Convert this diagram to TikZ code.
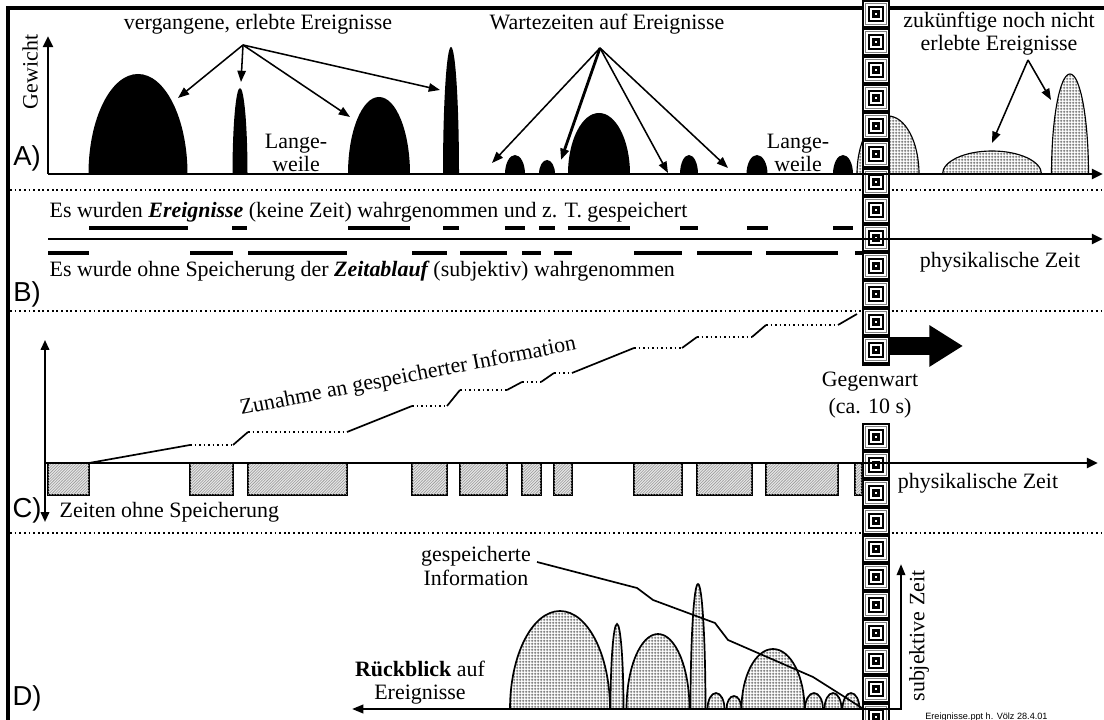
\documentclass[tikz,border=0pt]{standalone}
\usepackage{fontspec}
\setmainfont{Liberation Serif}
\newfontfamily\labelfont{Liberation Sans}
\usetikzlibrary{arrows.meta,patterns,positioning}

\newcommand{\evfont}{\fontsize{15.6}{16.5}\selectfont}
\newcommand{\tagfont}{\labelfont\fontsize{19.5}{20}\selectfont}
% fine grid and fine hatching as in the original
\pgfdeclarepatternformonly{finegrid}{\pgfpointorigin}{\pgfpoint{2.2pt}{2.2pt}}{\pgfpoint{2.2pt}{2.2pt}}{%
  \pgfsetlinewidth{0.45pt}
  \pgfpathmoveto{\pgfpoint{0pt}{1.1pt}}\pgfpathlineto{\pgfpoint{2.2pt}{1.1pt}}
  \pgfpathmoveto{\pgfpoint{1.1pt}{0pt}}\pgfpathlineto{\pgfpoint{1.1pt}{2.2pt}}
  \pgfusepath{stroke}}
\pgfdeclarepatternformonly{finehatch}{\pgfpoint{-0.5pt}{-0.5pt}}{\pgfpoint{2.5pt}{2.5pt}}{\pgfpoint{2pt}{2pt}}{%
  \pgfsetlinewidth{0.4pt}
  \pgfpathmoveto{\pgfpoint{0pt}{0pt}}\pgfpathlineto{\pgfpoint{2.1pt}{2.1pt}}
  \pgfusepath{stroke}}
% one square of the "Gegenwart" pillar, centred at height #1
\newcommand{\pcell}[1]{%
  \fill[white] (864,#1-12) rectangle (888,#1+12);
  \draw[gray, line width=0.6pt] (865.8,#1-10.2) rectangle (886.2,#1+10.2);
  \fill[black] (868,#1-8) rectangle (884,#1+8);
  \fill[white] (870,#1-6) rectangle (882,#1+6);
  \fill[black] (872,#1-4) rectangle (880,#1+4);
  \fill[white] (875,#1-1.2) rectangle (877,#1+1.2);}

\begin{document}
\begin{tikzpicture}[
    x=0.025cm, y=0.025cm,
    every node/.style={font=\evfont, inner sep=1pt},
    tag/.style={font=\tagfont},
    axis/.style={line width=2pt, -{Triangle[length=8pt,width=7pt]}},
    arr/.style={-{Triangle[length=8pt,width=6pt]}, line width=1.1pt},
    sep/.style={dotted, line width=1.3pt},
    evbar/.style={line width=2.2pt},
    infoline/.style={line width=1.2pt},
    future/.style={draw, line width=0.8pt, pattern=finegrid, pattern color=black!75},
    nostore/.style={draw, line width=1.5pt, fill=gray!18,
                    postaction={pattern=finehatch, pattern color=gray!80}}
  ]
  \useasboundingbox (0,0) rectangle (1104,720);

  % frame and separators
  \draw[line width=2.2pt] (1104,712) -- (8,712) -- (8,0);
  \foreach \y in {530,409,187}
    \draw[sep] (10,\y) -- (1104,\y);

  % A) events: future one hidden behind the pillar
  \path[future] (857,546) arc[start angle=180, end angle=0, x radius=31, y radius=58] -- cycle;

  % the pillar "Gegenwart"
  \fill[black] (862,354) rectangle (890,720);
  \fill[black] (862,0) rectangle (890,297);
  \foreach \cy in {706,678,...,370} {\pcell{\cy}}
  \foreach \cy in {283,255,...,3} {\pcell{\cy}}

  % ---------- A)
  \node[tag] (labA) at (27,562) {A)};
  \node[rotate=90] (weight) at (30,648) {Gewicht};
  \draw[axis] (48,546) -- (48,684);
  \draw[axis] (48,546) -- (1103,546);
  \foreach \c/\w/\h in {138/99/100, 240/15/86, 379/62/77, 451/16/127, 515/20/19,
                        547/16/14, 599/62/61, 689/18/19, 757/21/19, 843/20/19}
    \fill (\c-\w/2,546) arc[start angle=180, end angle=0, x radius=\w/2, y radius=\h] -- cycle;
  \foreach \c/\w/\h in {992/99/23, 1070/37/100}
    \path[future] (\c-\w/2,546) arc[start angle=180, end angle=0, x radius=\w/2, y radius=\h] -- cycle;

  \node (past) at (258,696) {vergangene, erlebte Ereignisse};
  \node (wait) at (607,696) {Wartezeiten auf Ereignisse};
  \node[align=center] (future) at (999,686) {zukünftige noch nicht\\erlebte Ereignisse};
  \node[align=center] (bore1) at (296,567) {Lange-\\weile};
  \node[align=center] (bore2) at (798,567) {Lange-\\weile};

  \coordinate (pastsrc) at (243,675);
  \coordinate (waitsrc) at (600,672);
  \coordinate (futsrc) at (1028,660);
  \coordinate (p1) at (178,622);
  \coordinate (p2) at (241,638);
  \coordinate (p3) at (350,603);
  \coordinate (p4) at (440,630);
  \coordinate (w1) at (492,557);
  \coordinate (w2) at (561,560);
  \coordinate (w3) at (668,547);
  \coordinate (w4) at (728,552);
  \coordinate (f1) at (992,577);
  \coordinate (f2) at (1051,620);
  \foreach \t in {p1,p2,p3,p4}
    \draw[arr] (pastsrc) -- (\t);
  \foreach \t in {w1,w3,w4}
    \draw[arr] (waitsrc) -- (\t);
  \draw[arr, line width=2pt] (waitsrc) -- (w2);
  \foreach \t in {f1,f2}
    \draw[arr] (futsrc) -- (\t);

  % ---------- B)
  \node[tag] (labB) at (27,426) {B)};
  \draw[axis] (48,481) -- (1103,481);
  \foreach \a/\b in {89/188, 232/247, 348/410, 443/459, 505/525, 539/555,
                     568/630, 680/698, 747/768, 833/853}
    \draw[evbar] (\a,492) -- (\b,492);
  \foreach \a/\b in {48/89, 190/233, 248/347, 412/447, 460/507, 522/541,
                     554/572, 634/682, 697/752, 766/838, 855/862}
    \draw[evbar] (\a,467) -- (\b,467);
  \node[anchor=west] (seen) at (48,508)
    {Es wurden {\bfseries\itshape Ereignisse} (keine Zeit) wahrgenommen und z. T. gespeichert};
  \node[anchor=west] (felt) at (48,449)
    {Es wurde ohne Speicherung der {\bfseries\itshape Zeitablauf} (subjektiv) wahrgenommen};
  \node (physB) at (1000,458) {physikalische Zeit};

  % ---------- C)
  \node[tag] (labC) at (27,210) {C)};
  \foreach \a/\b in {48/89, 190/233, 248/347, 412/447, 460/507, 522/541,
                     554/572, 634/682, 697/752, 766/838, 855/862}
    \draw[nostore] (\a,257) rectangle (\b,225);
  \draw[line width=1.4pt, {Triangle[length=7pt,width=6pt]}-{Triangle[length=7pt,width=6pt]}]
    (45,198) -- (45,380);
  \draw[axis] (45,257) -- (1098,257);
  \foreach \xa/\ya/\xb/\yb in {89/257/190/275, 233/275/248/288, 347/288/412/314,
                               447/314/460/330, 507/330/522/338, 541/338/554/347,
                               572/347/634/372, 682/372/697/383, 752/383/766/395,
                               838/395/857/406}
    \draw[infoline] (\xa,\ya) -- (\xb,\yb);
  \foreach \xa/\xb/\y in {190/233/275, 248/347/288, 412/447/314, 460/507/330,
                          522/541/338, 554/572/347, 634/682/372, 697/752/383,
                          766/838/395}
    \draw[infoline, dotted] (\xa,\y) -- (\xb,\y);
  \node[rotate=11] (gain) at (408,343) {Zunahme an gespeicherter Information};
  \node[anchor=west] (gaps) at (58,208) {Zeiten ohne Speicherung};
  \node (physC) at (978,237) {physikalische Zeit};
  \node[align=center] (now) at (870,325) {Gegenwart\\[3pt](ca. 10 s)};
  \coordinate (nowbase) at (890,374);
  \coordinate (nowtip) at (963,374);
  \draw[line width=13pt, -{Triangle[length=24pt,width=28pt]}] (nowbase) -- (nowtip);

  % ---------- D)
  \node[tag] (labD) at (27,22) {D)};
  \foreach \c/\w/\h in {560/100/98, 617/13/85, 658/63/75, 698/15/125, 716/17/16,
                        734/15/13, 773/63/60, 814/18/16, 833/17/16, 851/17/16}
    \path[future, line width=1.2pt] (\c-\w/2,11) arc[start angle=180, end angle=0, x radius=\w/2, y radius=\h] -- cycle;
  \node[align=center] (info) at (476,154) {gespeicherte\\Information};
  \coordinate (infostart) at (537,158);
  \draw[infoline] (infostart) -- (637,132) -- (653,120) -- (715,97) -- (728,80)
    -- (813,43) -- (862,12);
  \coordinate (dleft) at (352,11);
  \coordinate (dcorner) at (901,11);
  \coordinate (dtop) at (901,156);
  \draw[line width=1.6pt, {Triangle[length=8pt,width=6pt]}-{Triangle[length=8pt,width=6pt]}]
    (dleft) -- (dcorner) -- (dtop);
  \node[align=center] (back) at (420,37) {{\bfseries Rückblick} auf\\Ereignisse};
  \node[rotate=90] (subj) at (919,84) {subjektive Zeit};
  \node[anchor=north west, inner sep=0pt, font=\labelfont\fontsize{6.5}{7}\selectfont]
    (credit) at (925,7) {Ereignisse.ppt h. Völz 28.4.01};
\end{tikzpicture}
\end{document}
